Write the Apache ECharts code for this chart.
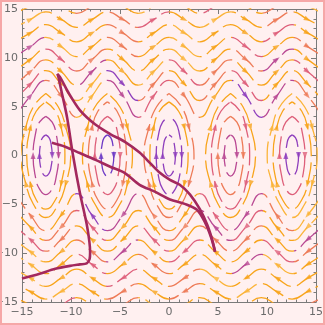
<!DOCTYPE html>
<html><head><meta charset="utf-8">
<script src="https://cdn.jsdelivr.net/npm/echarts@6/dist/echarts.min.js"></script>
<style>
html,body{margin:0;padding:0;background:#fff0f0;}
#c{position:absolute;left:0;top:0;width:325px;height:325px;}
#edge{position:absolute;left:0;top:0;width:325px;height:325px;box-sizing:border-box;border:2px solid #f6a7a7;pointer-events:none;}
</style></head><body>
<div id="c"></div><div id="edge"></div>
<script>
// ---- data ----
const waveX = [-15.71,-14.14,-12.57,-11.00,-9.42,-7.85,-6.28,-4.71,-3.14,-1.57,0,1.57,3.14,4.71,6.28,7.85,9.42,11.00,12.57,14.14,15.71];
// open streamlines above: [y at x=2kπ, y at x=π/2+kπ, y at x=odd π]
const upperLevels = [[16.0,15.30,14.56],[14.7,13.93,13.12],[13.4,12.55,11.64],[12.1,11.15,10.12],[10.9,9.84,8.65],[9.8,8.60,7.21],[8.7,7.33,5.63],[7.7,6.11,3.91]];
// open streamlines below
const lowerLevels = [[-16.0,-15.30,-14.56],[-14.7,-13.93,-13.12],[-13.4,-12.55,-11.64],[-12.1,-11.15,-10.12],[-10.9,-9.84,-8.65],[-9.8,-8.60,-7.21],[-8.7,-7.33,-5.63],[-7.7,-6.11,-3.91]];
// closed streamlines: centres and shapes relative to centre
const orbitCenters = [-12.57,-6.28,0,6.28,12.57];
const orbitShapes = [
 [[0,2.12],[0.33,1.83],[0.52,1.26],[0.65,0],[0.52,-1.26],[0.33,-1.83],[0,-2.12],[-0.33,-1.83],[-0.52,-1.26],[-0.65,0],[-0.52,1.26],[-0.33,1.83],[0,2.12]],
 [[0,4.01],[0.65,3.41],[1.04,2.29],[1.3,0],[1.04,-2.29],[0.65,-3.41],[0,-4.01],[-0.65,-3.41],[-1.04,-2.29],[-1.3,0],[-1.04,2.29],[-0.65,3.41],[0,4.01]],
 [[0,5.49],[0.98,4.53],[1.56,2.90],[1.95,0],[1.56,-2.90],[0.98,-4.53],[0,-5.49],[-0.98,-4.53],[-1.56,-2.90],[-1.95,0],[-1.56,2.90],[-0.98,4.53],[0,5.49]],
 [[0,6.35],[1.28,4.97],[2.04,2.89],[2.55,0],[2.04,-2.89],[1.28,-4.97],[0,-6.35],[-1.28,-4.97],[-2.04,-2.89],[-2.55,0],[-2.04,2.89],[-1.28,4.97],[0,6.35]]
];
// highlighted trajectories
const trajectoryA = [[-15.0,-12.6],[-13.2,-12.1],[-11.6,-11.6],[-10.1,-11.3],[-9.1,-11.15],[-8.4,-11.05],[-8.1,-10.6],[-8.05,-9.9],[-8.35,-7.3],[-9.1,-3.8],[-9.8,0.05],[-10.4,3.9],[-11.0,6.7],[-11.3,8.1],[-11.4,8.35],[-11.1,8.0],[-10.3,6.5],[-9.1,4.65],[-7.55,3.2],[-6.0,2.2],[-4.5,1.4],[-3.0,0.3],[-1.95,-0.75],[-0.9,-1.8],[0.1,-2.5],[1.1,-3.0],[2.15,-4.0],[3.15,-5.5],[3.9,-7.1],[4.4,-8.6],[4.7,-9.85]];
const trajectoryB = [[-11.95,1.3],[-10.6,0.9],[-9.1,0.25],[-7.5,-0.45],[-6.0,-1.15],[-4.5,-1.8],[-3.0,-3.0],[-1.45,-3.7],[0.1,-4.5],[1.6,-4.95],[2.85,-5.55],[3.65,-6.8],[4.3,-8.4],[4.7,-9.85]];
const axisTicks = [-15,-10,-5,0,5,10,15];
const axisTickLabels = ['\u221215','\u221210','\u22125','0','5','10','15'];

// ---- styling ----
const pal = {O:'#f8a41b', A:'#fbb43a', S:'#ee7b57', K:'#de5f7a', M:'#b94893', P:'#8f3fbd', V:'#6d39c6'};
const waveSeqs = ['OOSOAOKOSAOO','OSOAOOSKOAOS','OOKOSAOOOSOA','SOAOKOSOOMAO','OKSOOAOSMOKO','KOSSOMOAKSOO','SKOOSMKOAPSO','MKSOPMSOKMSA'];
const ringSeqs = ['PVPMP','MKPSK','OSOKO','OOSOA'];

function waveRow(lv){
  return waveX.map((x,i)=>{
    let y;
    if(i%2===1) y=lv[1];
    else { const n=Math.abs((i-10)/2); y = (n%2===0)? lv[0] : lv[2]; }
    return [x,y];
  });
}
function segColor(li,s,shift){ const q=waveSeqs[li]; return pal[q[(s+li*3+shift)%q.length]]; }

const series=[];
const arrowJobs=[];
function addWaves(levels, dir, shift){
  levels.forEach((lv,li)=>{
    const pts=waveRow(lv);
    const stops=[];
    for(let s=0;s<10;s++){ const c=segColor(li,s,shift); stops.push({offset:s/10,color:c},{offset:(s+1)/10,color:c}); }
    series.push({type:'line',data:pts,smooth:0.5,symbol:'none',silent:true,clip:true,z:2,
      lineStyle:{width:1.3,type:[24,6],dashOffset:(li*13+shift*7)%30,
        color:{type:'linear',x:0,y:0,x2:1,y2:0,colorStops:stops}}});
    for(let i=1;i<pts.length-1;i+=2){
      const s=(i-1)/2;
      arrowJobs.push({p:pts[i], a: dir>0?pts[i-1]:pts[i+1], b: dir>0?pts[i+1]:pts[i-1], color:segColor(li,s,shift)});
    }
  });
}
addWaves(upperLevels,1,0);
addWaves(lowerLevels,-1,5);

orbitCenters.forEach((cx,ci)=>{
  orbitShapes.forEach((shape,ri)=>{
    const pts=shape.map(p=>[cx+p[0],p[1]]);
    const q=ringSeqs[ri]; const color=pal[q[ci%q.length]];
    series.push({type:'line',data:pts,smooth:0.5,symbol:'none',silent:true,z:2,
      lineStyle:{width:1.3,color:color,type:[22,6],dashOffset:(ci*9+ri*5)%28}});
    const idx = ri<2 ? [3,9] : [2,4,8,10];
    idx.forEach(i=>arrowJobs.push({p:pts[i],a:pts[i-1],b:pts[i+1],color:color}));
  });
});

const thick={width:2.6,color:'#a3285d'};
series.push({type:'line',data:trajectoryA,smooth:0.3,symbol:'none',silent:true,z:10,lineStyle:thick});
series.push({type:'line',data:trajectoryB,smooth:0.3,symbol:'none',silent:true,z:10,lineStyle:thick});
series.push({id:'arrows',type:'scatter',data:[],silent:true,z:5,symbol:'triangle',symbolSize:[5,7]});

function fmt(v){ const k=axisTicks.indexOf(v); return k>=0?axisTickLabels[k]:''; }
const axisBase = {type:'value',min:-15,max:15,interval:5,
  axisLine:{show:true,onZero:false,lineStyle:{color:'#7a7a7a',width:1}},
  axisTick:{show:true,inside:true,length:5,lineStyle:{color:'#7a7a7a'}},
  minorTick:{show:true,splitNumber:5,length:2.5,lineStyle:{color:'#7a7a7a'}},
  splitLine:{show:false},minorSplitLine:{show:false}};
const labelStyle={color:'#6b6b6b',fontSize:11,fontFamily:'DejaVu Sans',formatter:fmt};

const option={
  animation:false,
  backgroundColor:'transparent',
  grid:{left:22,right:9,top:9,bottom:23,containLabel:false,outerBoundsMode:'none'},
  xAxis:[Object.assign({},axisBase,{position:'bottom',axisLabel:Object.assign({margin:5},labelStyle)}),
         Object.assign({},axisBase,{position:'top',axisLabel:{show:false}})],
  yAxis:[Object.assign({},axisBase,{position:'left',axisLabel:Object.assign({margin:4},labelStyle)}),
         Object.assign({},axisBase,{position:'right',axisLabel:{show:false}})],
  series:series
};
const chart=echarts.init(document.getElementById('c'),null,{renderer:'canvas'});
chart.setOption(option);

const arrows=arrowJobs.map(j=>{
  const pa=chart.convertToPixel({xAxisIndex:0,yAxisIndex:0},j.a);
  const pb=chart.convertToPixel({xAxisIndex:0,yAxisIndex:0},j.b);
  const ang=Math.atan2(-(pb[1]-pa[1]),pb[0]-pa[0])*180/Math.PI;
  return {value:j.p,symbolRotate:ang-90,itemStyle:{color:j.color}};
});
chart.setOption({series:[{id:'arrows',data:arrows}]});
</script></body></html>
